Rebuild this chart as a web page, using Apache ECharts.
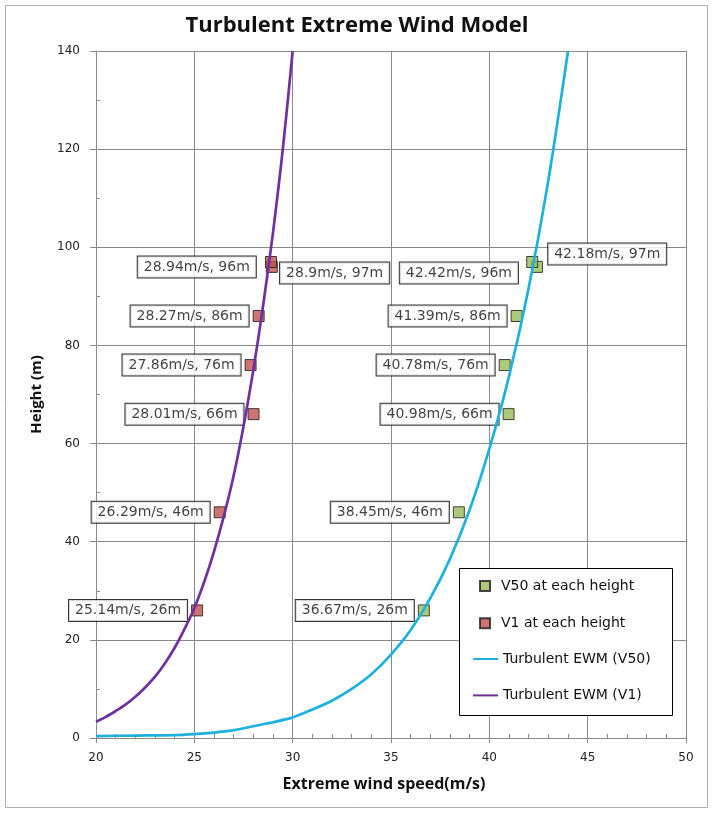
<!DOCTYPE html>
<html>
<head>
<meta charset="utf-8">
<script src="https://cdn.jsdelivr.net/npm/echarts@6/dist/echarts.min.js"></script>
<style>html,body{margin:0;padding:0;background:#fff;}#c{width:714px;height:814px;}</style>
</head>
<body>
<div id="c"></div>
<script>
// ---- data ----
const xTicks = [20, 25, 30, 35, 40, 45, 50];
const yTicks = [0, 20, 40, 60, 80, 100, 120, 140];

const pointHeights = [26, 46, 66, 76, 86, 96, 97];
const v50Points = [36.67, 38.45, 40.98, 40.78, 41.39, 42.42, 42.18];
const v1Points  = [25.14, 26.29, 28.01, 27.86, 28.27, 28.94, 28.9];

const v50CurveSpeed  = [20, 22, 24, 25, 26, 27, 28, 29, 30, 31, 32, 33, 34, 35, 36, 37, 38, 39, 40, 41, 42, 43, 44];
const v50CurveHeight = [0.4, 0.5, 0.6, 0.8, 1.1, 1.6, 2.4, 3.2, 4.2, 5.8, 7.6, 10.0, 13.0, 17.0, 22.0, 28.5, 36.5, 46.5, 58.9, 73.7, 91.7, 113.6, 140];

const v1CurveSpeed  = [20, 20.5, 21, 21.5, 22, 22.5, 23, 23.5, 24, 24.5, 25, 25.5, 26, 26.5, 27, 27.5, 28, 28.5, 29, 29.5, 30];
const v1CurveHeight = [3.3, 4.3, 5.5, 6.8, 8.4, 10.3, 12.5, 15.2, 18.4, 22.2, 26.5, 31.8, 38, 45.2, 53.5, 63.5, 75, 88.2, 103, 120, 140];

const seriesNames = ['V50 at each height', 'V1 at each height', 'Turbulent EWM (V50)', 'Turbulent EWM (V1)'];

// ---- build ----
const zip = (a, b) => a.map((v, i) => [v, b[i]]);
const labelText = p => p.value[0] + 'm/s, ' + p.value[1] + 'm';

const baseLabel = {
  show: true, position: 'left', distance: 4,
  formatter: labelText,
  fontFamily: 'DejaVu Sans', fontSize: 14, color: '#111',
  backgroundColor: '#fff', borderColor: '#000', borderWidth: 1,
  padding: [3, 6, 2, 6], lineHeight: 16
};

function pointData(xs, special) {
  return xs.map((x, i) => {
    const d = { value: [x, pointHeights[i]] };
    if (special[i]) d.label = special[i];
    return d;
  });
}

const v1Special = {
  5: { position: 'left', distance: 10 },
  6: { position: 'right', distance: 3, offset: [0, 11] }
};
const v50Special = {
  5: { position: 'left', distance: 13, offset: [0, 6] },
  6: { position: 'right', distance: 10, offset: [0, -8] }
};

const axisFont = { fontFamily: 'DejaVu Sans', fontSize: 12, color: '#222' };
const gridColor = '#8a8a8a';
const legendText = { fontFamily: 'DejaVu Sans', fontSize: 14, color: '#111', lineHeight: 14 };

const option = {
  backgroundColor: '#fff',
  animation: false,
  title: {
    text: 'Turbulent Extreme Wind Model',
    left: 'center', top: 10,
    textStyle: { fontFamily: 'Open Sans', fontWeight: 'bold', fontSize: 22, color: '#111' }
  },
  grid: { left: 96, right: 28, top: 51, bottom: 76, outerBoundsMode: 'none' },
  xAxis: {
    type: 'value', min: 20, max: 50, interval: 5,
    name: 'Extreme wind speed(m/s)', nameLocation: 'middle', nameGap: 38,
    nameTextStyle: { fontFamily: 'Open Sans', fontWeight: 'bold', fontSize: 16, color: '#111', padding: [0, 14, 0, 0] },
    axisLine: { show: true, lineStyle: { color: gridColor, width: 1 } },
    axisTick: { show: true, inside: false, length: 5, lineStyle: { color: gridColor } },
    minorTick: { show: true, splitNumber: 5, length: -4, lineStyle: { color: gridColor } },
    splitLine: { show: true, lineStyle: { color: gridColor, width: 1 } },
    axisLabel: Object.assign({ margin: 14, formatter: v => xTicks.includes(v) ? String(v) : '' }, axisFont)
  },
  yAxis: {
    type: 'value', min: 0, max: 140, interval: 20,
    name: 'Height (m)', nameLocation: 'middle', nameGap: 52, nameRotate: 90,
    nameTextStyle: { fontFamily: 'Open Sans', fontWeight: 'bold', fontSize: 15, color: '#111' },
    axisLine: { show: true, lineStyle: { color: gridColor, width: 1 } },
    axisTick: { show: true, inside: false, length: 6, lineStyle: { color: gridColor } },
    minorTick: { show: true, splitNumber: 2, length: -4, lineStyle: { color: gridColor } },
    splitLine: { show: true, lineStyle: { color: gridColor, width: 1 } },
    axisLabel: Object.assign({ margin: 16, formatter: v => yTicks.includes(v) ? String(v) : '' }, axisFont)
  },
  legend: [
    {
      orient: 'vertical', left: 479, top: 579, z: 10,
      data: seriesNames.slice(0, 2),
      padding: 0, itemWidth: 10, itemHeight: 10, itemGap: 23.3,
      textStyle: Object.assign({ padding: [0, 0, 0, 6] }, legendText)
    },
    {
      orient: 'vertical', left: 472, top: 652, z: 10,
      data: seriesNames.slice(2).map(n => ({ name: n, itemStyle: { opacity: 0 } })),
      padding: 0, itemWidth: 25, itemHeight: 10, itemGap: 22.4,
      textStyle: legendText
    }
  ],
  series: [
    {
      name: seriesNames[0], type: 'scatter', z: 2,
      symbol: 'rect', symbolSize: 11,
      itemStyle: { color: '#9BBB59', borderColor: '#1a1a1a', borderWidth: 1 },
      label: baseLabel,
      data: pointData(v50Points, v50Special)
    },
    {
      name: seriesNames[1], type: 'scatter', z: 2,
      symbol: 'rect', symbolSize: 11,
      itemStyle: { color: '#C0504D', borderColor: '#1a1a1a', borderWidth: 1 },
      label: baseLabel,
      data: pointData(v1Points, v1Special)
    },
    {
      name: seriesNames[2], type: 'line', z: 3, smooth: 0.3,
      symbol: 'none', color: '#1EB1E0',
      lineStyle: { color: '#1EB1E0', width: 2.7 },
      data: zip(v50CurveSpeed, v50CurveHeight)
    },
    {
      name: seriesNames[3], type: 'line', z: 3, smooth: 0.3,
      symbol: 'none', color: '#7030A0',
      lineStyle: { color: '#7030A0', width: 2.7 },
      data: zip(v1CurveSpeed, v1CurveHeight)
    }
  ],
  graphic: [
    {
      type: 'rect', silent: true, z: -10,
      shape: { x: 5.5, y: 5.5, width: 702, height: 802 },
      style: { fill: null, stroke: '#b0b0b0', lineWidth: 1 }
    },
    {
      type: 'rect', silent: true, z: 8,
      shape: { x: 459.5, y: 568.5, width: 213, height: 147 },
      style: { fill: '#fff', stroke: '#000', lineWidth: 1 }
    }
  ]
};

const chart = echarts.init(document.getElementById('c'), null, { renderer: 'canvas' });
chart.setOption(option);
</script>
</body>
</html>
